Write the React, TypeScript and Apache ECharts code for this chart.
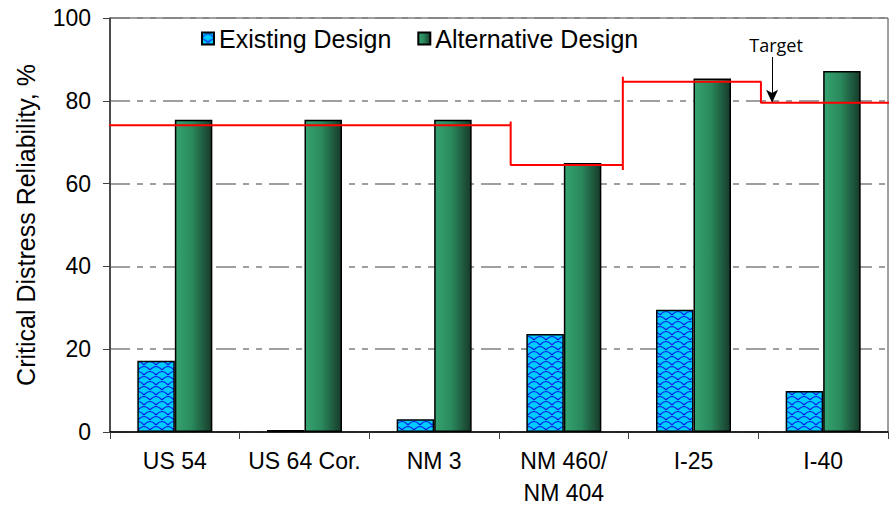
import React, { useEffect, useRef } from "react";
import * as echarts from "echarts";

const categories = ["US 54", "US 64 Cor.", "NM 3", "NM 460/\nNM 404", "I-25", "I-40"];
const existingDesign = [17.2, 0.5, 3.1, 23.7, 29.5, 9.9];
const alternativeDesign = [75.4, 75.4, 75.4, 65.0, 85.4, 87.2];
const yTicks = [0, 20, 40, 60, 80, 100];
// target reliability step line: [category position, reliability %]
const targetLine: [number, number][] = [
  [-0.05, 74.1], [3.09, 74.1], [3.09, 75.0], [3.09, 64.5], [3.955, 64.5], [3.955, 63.3],
  [3.955, 85.8], [3.955, 84.6], [5.02, 84.6], [5.02, 79.5], [6.02, 79.5],
];
const targetArrow: [number, number][] = [[5.106, 90.6], [5.106, 79.5]];

const patternSvg =
  "<svg xmlns='http://www.w3.org/2000/svg' width='12' height='10'>" +
  "<rect width='12' height='10' fill='#00ccff'/>" +
  "<path d='M0 5 Q6 -2 12 5 M-6 10 Q0 3 6 10 M6 10 Q12 3 18 10 M-6 0 Q0 -7 6 0 M6 0 Q12 -7 18 0' stroke='#0a1ee8' fill='none' stroke-width='1.2'/>" +
  "</svg>";
const patternUrl = "data:image/svg+xml;charset=utf-8," + encodeURIComponent(patternSvg);

export default function App() {
  const ref = useRef<HTMLDivElement>(null);
  useEffect(() => {
    if (!ref.current) return;
    const chart = echarts.init(ref.current, null, { renderer: "svg" });
    const font = "'Liberation Sans', Arial, sans-serif";
    const green = new echarts.graphic.LinearGradient(0, 0, 1, 0, [
      { offset: 0, color: "#35a370" },
      { offset: 0.45, color: "#2a8a5d" },
      { offset: 1, color: "#173b2b" },
    ]);
    chart.setOption({
      animation: false,
      grid: { left: 110, right: 3, top: 18, bottom: 84, show: true, borderColor: "#404040", borderWidth: 1 },
      legend: {
        left: 196,
        top: 21,
        itemWidth: 12,
        itemHeight: 12,
        itemGap: 26,
        icon: "rect",
        textStyle: { fontSize: 25, color: "#000", fontFamily: font },
        data: ["Existing Design", "Alternative Design"],
      },
      xAxis: [
        {
          type: "category",
          data: categories,
          axisLine: { lineStyle: { color: "#000", width: 1.5 } },
          axisTick: { show: true, length: 7, lineStyle: { color: "#404040" } },
          axisLabel: {
            fontSize: 23,
            color: "#000",
            fontFamily: font,
            margin: 13,
            lineHeight: 32,
            interval: 0,
          },
        },
        { type: "value", min: 0, max: 6, show: false },
      ],
      yAxis: {
        type: "value",
        min: 0,
        max: 100,
        interval: 20,
        name: "Critical Distress Reliability, %",
        nameLocation: "middle",
        nameGap: 72,
        nameTextStyle: { fontSize: 25, color: "#000", fontFamily: font },
        axisLine: { show: true, lineStyle: { color: "#303030", width: 1.5 } },
        axisTick: { show: true, length: 7, lineStyle: { color: "#404040" } },
        axisLabel: {
          fontSize: 23,
          color: "#000",
          fontFamily: font,
          margin: 19,
          formatter: (v: number) => (yTicks.includes(v) ? String(v) : ""),
        },
        splitLine: {
          show: true,
          lineStyle: { color: "#808080", width: 1.5, type: [20, 7, 6, 7, 6, 7] },
        },
      },
      series: [
        {
          name: "Existing Design",
          type: "bar",
          data: existingDesign,
          barWidth: 37.5,
          barGap: "0%",
          itemStyle: {
            color: { image: patternUrl, repeat: "repeat", imageWidth: 12, imageHeight: 10 },
            borderColor: "#000",
            borderWidth: 1.5,
          },
        },
        {
          name: "Alternative Design",
          type: "bar",
          data: alternativeDesign,
          barWidth: 37.5,
          barGap: "0%",
          itemStyle: { color: green, borderColor: "#000", borderWidth: 1.5 },
        },
        {
          name: "Target",
          type: "line",
          xAxisIndex: 1,
          yAxisIndex: 0,
          data: targetLine,
          symbol: "none",
          clip: false,
          z: 5,
          lineStyle: { color: "#ff0000", width: 2 },
          markLine: {
            silent: true,
            symbol: ["none", "arrow"],
            symbolSize: [9, 13],
            lineStyle: { color: "#000", type: "solid", width: 1 },
            label: {
              show: true,
              position: "start",
              formatter: "Target",
              fontSize: 18,
              color: "#000",
              fontFamily: "'Open Sans', sans-serif",
              distance: 3,
              offset: [4, 0],
            },
            data: [[{ coord: targetArrow[0] }, { coord: targetArrow[1] }]],
          },
        },
      ],
    });
    return () => chart.dispose();
  }, []);
  return <div ref={ref} style={{ width: 891, height: 516, position: "absolute", left: 0, top: 0 }} />;
}
